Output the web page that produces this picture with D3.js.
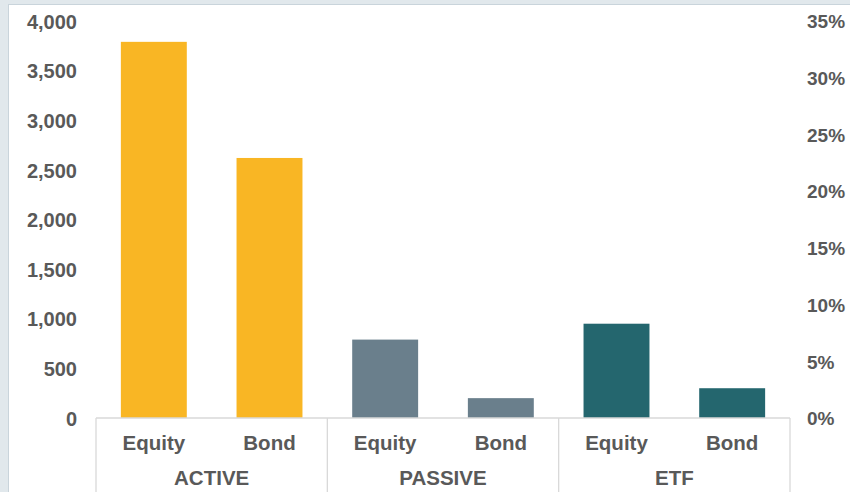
<!DOCTYPE html>
<html><head><meta charset="utf-8">
<script src="https://cdn.jsdelivr.net/npm/d3@7"></script>
<style>
body{margin:0;background:#e1e8ec;}
svg{display:block;}
text{font-family:"Liberation Sans",Arial,sans-serif;font-weight:bold;fill:#595959;}
</style></head>
<body>
<svg id="c" width="850" height="492"></svg>
<script>
const groups = ["ACTIVE","PASSIVE","ETF"];
const subCats = ["Equity","Bond"];
const values = [3790, 2620, 790, 200, 950, 300];
const colors = ["#f9b624","#f9b624","#6a7f8c","#6a7f8c","#24666e","#24666e"];
const leftTicks = [0,500,1000,1500,2000,2500,3000,3500,4000];
const rightTicks = [0,0.05,0.10,0.15,0.20,0.25,0.30,0.35];

const svg = d3.select("#c");
svg.append("rect").attr("x",8.5).attr("y",4.5).attr("width",850).attr("height",500)
  .attr("fill","#fff").attr("stroke","#c9d4db").attr("stroke-width",1);

const x0 = 96, x1 = 790, yBase = 418, yTop = 21;
const items = [];
groups.forEach((g,gi)=>subCats.forEach((s,si)=>items.push({g, s, i: gi*2+si})));

const x = d3.scaleBand().domain(items.map(d=>d.i)).range([x0,x1]).paddingInner(0.43).paddingOuter(0.215);
const y = d3.scaleLinear().domain([0,4000]).range([yBase,yTop]);
const y2 = d3.scaleLinear().domain([0,0.35]).range([yBase,yTop]);

svg.append("g").selectAll("rect").data(items).join("rect")
  .attr("x",d=>x(d.i)).attr("width",x.bandwidth())
  .attr("y",d=>y(values[d.i])).attr("height",d=>y(0)-y(values[d.i]))
  .attr("fill",d=>colors[d.i]);

// left axis
const la = svg.append("g").attr("transform",`translate(77,0)`)
  .call(d3.axisLeft(y).tickValues(leftTicks).tickSize(0).tickPadding(0).tickFormat(d3.format(",")));
la.select(".domain").remove();
la.selectAll("text").attr("font-size",20).attr("dy","0.36em").attr("font-family",null);

// right axis
const ra = svg.append("g").attr("transform",`translate(807,0)`)
  .call(d3.axisRight(y2).tickValues(rightTicks).tickSize(0).tickPadding(0).tickFormat(d3.format(".0%")));
ra.select(".domain").remove();
ra.selectAll("text").attr("font-size",19).attr("dy","0.36em").attr("font-family",null);

// category frame
const bounds = [x0, x0+(x1-x0)/3, x0+2*(x1-x0)/3, x1];
const grid = svg.append("g").attr("stroke","#d9d9d9").attr("stroke-width",1.3);
grid.append("line").attr("x1",x0).attr("x2",x1).attr("y1",yBase).attr("y2",yBase);
bounds.forEach(b=>grid.append("line").attr("x1",b).attr("x2",b).attr("y1",yBase).attr("y2",492));

svg.append("g").selectAll("text").data(items).join("text")
  .attr("x",d=>x(d.i)+x.bandwidth()/2).attr("y",450)
  .attr("text-anchor","middle").attr("font-size",20.5).text(d=>d.s);

svg.append("g").selectAll("text").data(groups).join("text")
  .attr("x",(d,i)=>(bounds[i]+bounds[i+1])/2).attr("y",485)
  .attr("text-anchor","middle").attr("font-size",20.5).text(d=>d);
</script>
</body></html>
